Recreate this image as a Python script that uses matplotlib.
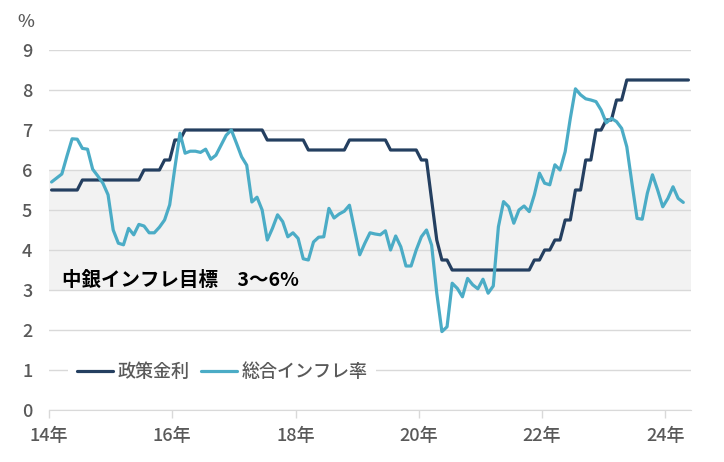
import numpy as np
import matplotlib
matplotlib.use('Agg')
import matplotlib.pyplot as plt

plt.rcParams['font.family'] = ['Noto Sans CJK JP', 'DejaVu Sans']
plt.rcParams['font.weight'] = 'medium'

# 政策金利（月次、2014年1月～2024年5月）
policy = [
    5.5, 5.5, 5.5, 5.5, 5.5, 5.5, 5.75, 5.75, 5.75, 5.75, 5.75, 5.75,      # 2014
    5.75, 5.75, 5.75, 5.75, 5.75, 5.75, 6.0, 6.0, 6.0, 6.0, 6.25, 6.25,    # 2015
    6.75, 6.75, 7.0, 7.0, 7.0, 7.0, 7.0, 7.0, 7.0, 7.0, 7.0, 7.0,          # 2016
    7.0, 7.0, 7.0, 7.0, 7.0, 7.0, 6.75, 6.75, 6.75, 6.75, 6.75, 6.75,      # 2017
    6.75, 6.75, 6.5, 6.5, 6.5, 6.5, 6.5, 6.5, 6.5, 6.5, 6.75, 6.75,        # 2018
    6.75, 6.75, 6.75, 6.75, 6.75, 6.75, 6.5, 6.5, 6.5, 6.5, 6.5, 6.5,      # 2019
    6.25, 6.25, 5.25, 4.25, 3.75, 3.75, 3.5, 3.5, 3.5, 3.5, 3.5, 3.5,      # 2020
    3.5, 3.5, 3.5, 3.5, 3.5, 3.5, 3.5, 3.5, 3.5, 3.5, 3.75, 3.75,          # 2021
    4.0, 4.0, 4.25, 4.25, 4.75, 4.75, 5.5, 5.5, 6.25, 6.25, 7.0, 7.0,      # 2022
    7.25, 7.25, 7.75, 7.75, 8.25, 8.25, 8.25, 8.25, 8.25, 8.25, 8.25, 8.25,  # 2023
    8.25, 8.25, 8.25, 8.25, 8.25,                                          # 2024
]

# 総合インフレ率（月次、2014年1月～2024年4月）
inflation = [
    5.7, 5.8, 5.9, 6.35, 6.78, 6.77, 6.54, 6.52, 6.02, 5.85, 5.67, 5.38,   # 2014
    4.5, 4.17, 4.13, 4.54, 4.38, 4.64, 4.6, 4.43, 4.43, 4.57, 4.75, 5.13,  # 2015
    6.05, 6.92, 6.42, 6.47, 6.47, 6.44, 6.52, 6.27, 6.37, 6.62, 6.87, 7.0,  # 2016
    6.67, 6.33, 6.12, 5.2, 5.32, 5.0, 4.25, 4.54, 4.88, 4.71, 4.33, 4.43,  # 2017
    4.29, 3.78, 3.75, 4.2, 4.32, 4.33, 5.04, 4.8, 4.9, 4.97, 5.12, 4.5,    # 2018
    3.88, 4.17, 4.43, 4.4, 4.38, 4.48, 4.0, 4.35, 4.08, 3.6, 3.6, 4.0,     # 2019
    4.33, 4.5, 4.12, 2.92, 1.96, 2.08, 3.17, 3.04, 2.83, 3.29, 3.13, 3.03,  # 2020
    3.27, 2.92, 3.1, 4.58, 5.21, 5.08, 4.67, 5.0, 5.1, 4.96, 5.38, 5.92,   # 2021
    5.67, 5.63, 6.13, 6.0, 6.46, 7.29, 8.03, 7.88, 7.78, 7.75, 7.71, 7.5,  # 2022
    7.18, 7.29, 7.21, 7.04, 6.58, 5.67, 4.79, 4.77, 5.42, 5.88, 5.5, 5.08,  # 2023
    5.29, 5.58, 5.29, 5.19,                                                # 2024
]

year_labels = ['14年', '16年', '18年', '20年', '22年', '24年']
target_low, target_high = 3, 6

n_months = len(policy)
x_policy = np.arange(len(policy)) + 0.5
x_infl = np.arange(len(inflation)) + 0.5

gray_text = '#595959'
fig = plt.figure(figsize=(7.24, 4.62), dpi=100)
ax = fig.add_axes([49 / 724, 52 / 462, 642 / 724, 360 / 462])

# インフレ目標レンジ
ax.axhspan(target_low, target_high, color='#F2F2F2', zorder=0, lw=0)

ax.plot(x_policy, policy, color='#243F60', lw=2.3, solid_joinstyle='round',
        solid_capstyle='round', label='政策金利', zorder=3)
ax.plot(x_infl, inflation, color='#4BACC6', lw=2.3, solid_joinstyle='round',
        solid_capstyle='round', label='総合インフレ率', zorder=4)

ax.set_xlim(0, n_months)
ax.set_ylim(0, 9)
ax.set_yticks(range(0, 10))
ax.set_xticks(np.arange(len(year_labels)) * 24)
ax.set_xticklabels(year_labels)

ax.set_axisbelow(True)
ax.grid(axis='y', color='#D9D9D9', lw=1)
for s in ['top', 'right', 'left']:
    ax.spines[s].set_visible(False)
ax.spines['bottom'].set_color('#D9D9D9')
ax.tick_params(axis='y', length=0, pad=12, labelsize=13, labelcolor=gray_text)
ax.tick_params(axis='x', length=6, width=1, color='#D9D9D9', pad=6,
               labelsize=13, labelcolor=gray_text)

fig.text(26 / 724, 1 - 22 / 462, '%', ha='center', va='center',
         fontsize=13, color=gray_text)

# 目標レンジの注記
ax.text(13 / 642, (410 - 280) / 360, '中銀インフレ目標　3～6%',
        transform=ax.transAxes, fontsize=14, fontweight='bold', color='black',
        va='center', ha='left', zorder=5)

leg = ax.legend(loc='center left', bbox_to_anchor=(0.03, 0.105), ncol=2,
                frameon=True, fontsize=13, handlelength=2.0, handletextpad=0.25,
                columnspacing=0.6, borderpad=0.5, borderaxespad=0)
leg.get_frame().set_facecolor('white')
leg.get_frame().set_edgecolor('none')
leg.get_frame().set_alpha(1)
for t in leg.get_texts():
    t.set_color(gray_text)

fig.savefig('out.png', dpi=100)
